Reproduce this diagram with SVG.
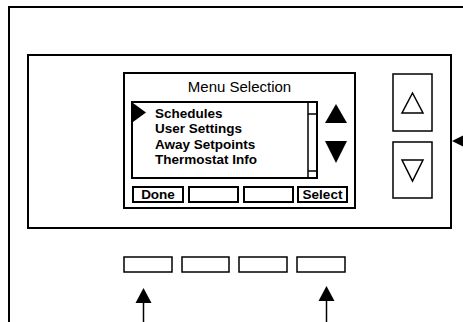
<svg xmlns="http://www.w3.org/2000/svg" width="463" height="322" viewBox="0 0 463 322">
<style>
.ln{fill:none;stroke:#000;stroke-width:2}
.thin{fill:none;stroke:#000;stroke-width:1.5}
.blk{fill:#000;stroke:none}
.title{font-family:"Liberation Sans",Arial,sans-serif;font-size:15px;fill:#000}
.item{font-family:"Liberation Sans",Arial,sans-serif;font-size:13.5px;font-weight:bold;fill:#000}
</style>
<rect width="463" height="322" fill="#fff"/>
<g id="outer-frame"><path class="ln" d="M9,322 V7 H464" stroke-width="2.5"/></g>
<g id="panel"><rect class="ln" x="28" y="55" width="423" height="173"/></g>
<g id="screen">
<rect class="ln" x="124" y="73" width="231" height="135"/>
<text class="title" x="239.5" y="92" text-anchor="middle">Menu Selection</text>
<rect class="ln" x="132" y="102" width="185" height="76"/>
<path class="thin" d="M308,102 V178 M308,114 H317 M308,171 H317"/>
<path class="blk" d="M133,103 L146,112.5 L133,122 Z"/>
<text class="item" x="155" y="117.5">Schedules</text>
<text class="item" x="155" y="133">User Settings</text>
<text class="item" x="155" y="148.5">Away Setpoints</text>
<text class="item" x="155" y="164">Thermostat Info</text>
<path class="blk" d="M336,104 L347,123 L325,123 Z"/>
<path class="blk" d="M325,141 L347,141 L336,163 Z"/>
</g>
<g id="soft-done"><rect class="ln" x="133" y="187" width="50" height="15"/><text class="item" x="158" y="199" text-anchor="middle">Done</text></g>
<g id="soft-2"><rect class="ln" x="189" y="187" width="49" height="15"/></g>
<g id="soft-3"><rect class="ln" x="244" y="187" width="49" height="15"/></g>
<g id="soft-select"><rect class="ln" x="298" y="187" width="49" height="15"/><text class="item" x="322.5" y="199" text-anchor="middle">Select</text></g>
<g id="up-key"><rect class="thin" x="393" y="74" width="39" height="57"/><path class="thin" d="M412.5,93 L423,113 L402,113 Z"/></g>
<g id="down-key"><rect class="thin" x="393" y="142" width="39" height="56"/><path class="thin" d="M402,160 L423,160 L412.5,181 Z"/></g>
<g id="key-1"><rect class="thin" x="124" y="257" width="48" height="15"/></g>
<g id="key-2"><rect class="thin" x="182" y="257" width="47" height="15"/></g>
<g id="key-3"><rect class="thin" x="239" y="257" width="48" height="15"/></g>
<g id="key-4"><rect class="thin" x="297" y="257" width="48" height="15"/></g>
<g id="connectors">
<path class="thin" d="M143.5,302 V322"/>
<path class="blk" d="M143.5,288 L151.5,303 L135.5,303 Z"/>
<path class="thin" d="M326.5,300 V322"/>
<path class="blk" d="M326.5,286 L334.5,301 L318.5,301 Z"/>
<path class="blk" d="M452,141 L464,135 L464,147 Z"/>
</g>
</svg>
